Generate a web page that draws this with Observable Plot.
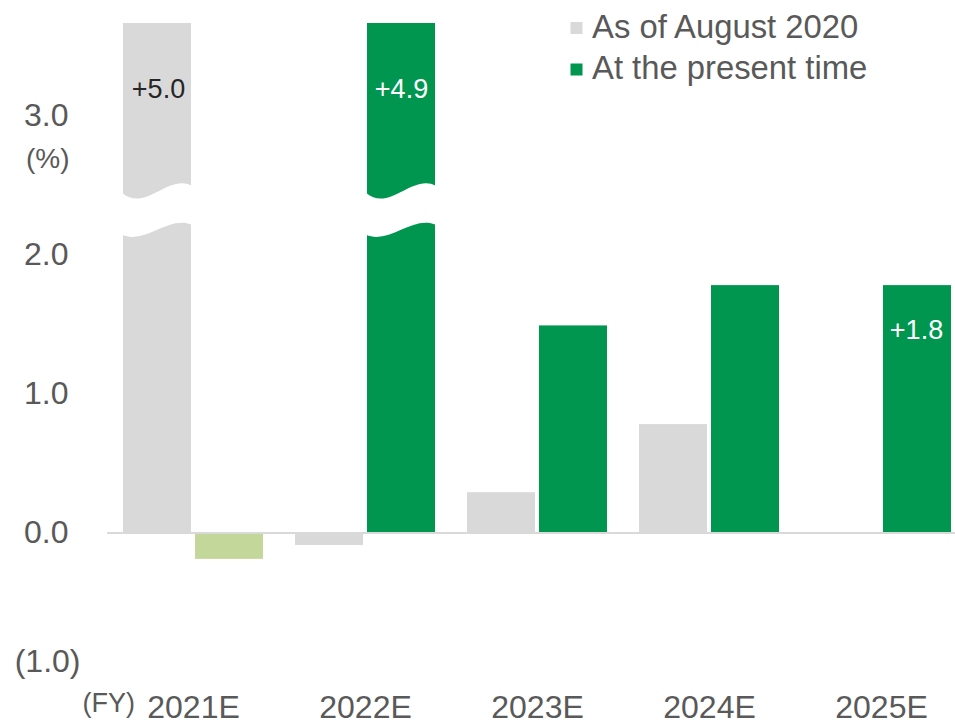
<!DOCTYPE html>
<html>
<head>
<meta charset="utf-8">
<script src="https://cdn.jsdelivr.net/npm/d3@7"></script>
<script src="https://cdn.jsdelivr.net/npm/@observablehq/plot@0.6"></script>
<style>
  body { margin: 0; background: #fff; }
  #chart { position: relative; width: 955px; height: 724px; }
  svg { font-family: "Liberation Sans", Arial, sans-serif; }
</style>
</head>
<body>
<div id="chart"></div>
<script>
// ---- data ----
const years = ["2021E", "2022E", "2023E", "2024E", "2025E"];
const asOfAugust2020 = [5.0, -0.09, 0.29, 0.78, null];
const presentTime = [-0.19, 4.9, 1.49, 1.78, 1.78];
const augustLabels = ["+5.0", "", "", "", ""];
const presentLabels = ["", "+4.9", "", "", "+1.8"];
const seriesNames = ["As of August 2020", "At the present time"];
const yTicks = [0, 1, 2, 3];
const yNegativeTicks = [-1];
const axisBreakValue = 2.3;
const yDomain = [-1.378, 3.666];

// ---- styles ----
const GRAY = "#d9d9d9", GREEN = "#009650", LIGHT_GREEN = "#c4d79b", TEXT = "#595959";
const FONT = "'Liberation Sans', Arial, sans-serif";

const aug = years.map((year, i) => ({year, value: asOfAugust2020[i], label: augustLabels[i]}))
  .filter(d => d.value != null);
const pres = years.map((year, i) => ({year, value: presentTime[i], label: presentLabels[i]}));
const yTop = yDomain[1];
const fmt = d3.format(".1f");

const plot = Plot.plot({
  width: 955,
  height: 724,
  marginLeft: 107,
  marginRight: 0,
  marginTop: 23,
  marginBottom: 0,
  style: {fontFamily: FONT, background: "white", overflow: "visible"},
  x: {domain: years, range: [107, 967], paddingInner: 32 / 172, paddingOuter: 16 / 172, axis: null},
  y: {domain: yDomain, axis: null},
  color: {type: "identity"},
  marks: [
    Plot.barY(aug, {x: "year", y: "value", fill: GRAY, insetRight: 72, clip: true}),
    Plot.barY(pres, {x: "year", y: "value", fill: d => d.value < 0 ? LIGHT_GREEN : GREEN, insetLeft: 72, clip: true}),
    Plot.ruleY([0], {stroke: GRAY, strokeWidth: 2}),
    // y tick labels
    Plot.text(yTicks, {y: d => d, text: d => fmt(d), frameAnchor: "left", textAnchor: "end", dx: -39, fontSize: 32, fill: TEXT}),
    Plot.text(yNegativeTicks, {y: d => d, text: d => `(${fmt(-d)})`, frameAnchor: "left", textAnchor: "end", dx: -27, dy: -10, fontSize: 32, fill: TEXT}),
    Plot.text(["(%)"], {text: d => d, frameAnchor: "top-left", textAnchor: "end", lineAnchor: "bottom", dx: -38, dy: 144, fontSize: 28, fill: TEXT}),
    // x labels
    Plot.text(years, {x: d => d, text: d => d, frameAnchor: "bottom", lineAnchor: "bottom", dy: -7, fontSize: 32, fill: TEXT}),
    Plot.text(["(FY)"], {text: d => d, frameAnchor: "bottom-left", textAnchor: "start", lineAnchor: "bottom", dx: -25, dy: -13, fontSize: 27, fill: TEXT}),
    // value labels
    Plot.text(aug.filter(d => d.label && d.value > yTop), {x: "year", y: () => yTop, text: "label", dx: -35, dy: 74, lineAnchor: "bottom", fontSize: 27, fill: "#262626"}),
    Plot.text(aug.filter(d => d.label && d.value <= yTop), {x: "year", y: "value", text: "label", dx: -35, dy: 53, lineAnchor: "bottom", fontSize: 27, fill: "#262626"}),
    Plot.text(pres.filter(d => d.label && d.value > yTop), {x: "year", y: () => yTop, text: "label", dx: 36, dy: 74, lineAnchor: "bottom", fontSize: 27, fill: "white"}),
    Plot.text(pres.filter(d => d.label && d.value <= yTop), {x: "year", y: "value", text: "label", dx: 35, dy: 53, lineAnchor: "bottom", fontSize: 27, fill: "white"})
  ]
});

document.getElementById("chart").appendChild(plot);
const svgEl = plot.tagName.toLowerCase() === "svg" ? plot : plot.querySelector("svg");
const svg = d3.select(svgEl);
const xs = plot.scale("x"), ys = plot.scale("y");
const bw = xs.bandwidth;
const barW = (bw - 4) / 2;

// axis-break marks on bars taller than the visible range
const broken = [
  ...aug.filter(d => d.value > yTop).map(d => ({year: d.year, side: 0})),
  ...pres.filter(d => d.value > yTop).map(d => ({year: d.year, side: 1}))
];
const c = ys.apply(axisBreakValue);
broken.forEach(b => {
  const x0 = xs.apply(b.year) + b.side * (bw - barW) - 1;
  const w = barW + 2, x1 = x0 + w;
  const d = `M${x0},${c - 20} C${x0 + w / 3},${c} ${x0 + 2 * w / 3},${c - 40} ${x1},${c - 27}` +
            ` L${x1},${c + 12} C${x0 + 2 * w / 3},${c + 2} ${x0 + w / 3},${c + 32} ${x0},${c + 22} Z`;
  svg.append("path").attr("d", d).attr("fill", "white");
});

// legend (inside plot area, top right)
const legendColors = [GRAY, GREEN];
const lg = svg.append("g").attr("font-family", FONT).attr("text-anchor", "start");
seriesNames.forEach((name, i) => {
  const base = 37.5 + i * 41.5;
  lg.append("rect").attr("x", 570.5).attr("y", base - 15.5).attr("width", 12).attr("height", 12).attr("fill", legendColors[i]);
  lg.append("text").attr("x", 592).attr("y", base).attr("font-size", 32.8).attr("fill", TEXT).attr("text-anchor", "start").text(name);
});
</script>
</body>
</html>
